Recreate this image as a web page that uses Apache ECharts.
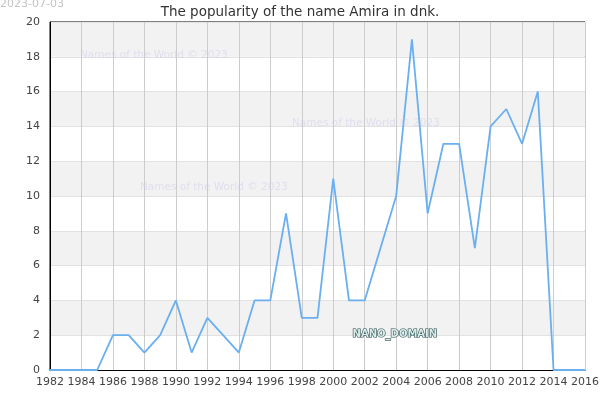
<!DOCTYPE html>
<html>
<head>
<meta charset="utf-8">
<script src="https://cdn.jsdelivr.net/npm/echarts@6/dist/echarts.min.js"></script>
<style>
  html, body { margin: 0; padding: 0; background: #fff; }
  #chart { width: 600px; height: 400px; }
</style>
</head>
<body>
<div id="chart"></div>
<script>
  const years = [1982, 1983, 1984, 1985, 1986, 1987, 1988, 1989, 1990, 1991, 1992, 1993,
    1994, 1995, 1996, 1997, 1998, 1999, 2000, 2001, 2002, 2003, 2004, 2005, 2006, 2007,
    2008, 2009, 2010, 2011, 2012, 2013, 2014, 2015, 2016];
  const counts = [0, 0, 0, 0, 2, 2, 1, 2, 4, 1, 3, 2,
    1, 4, 4, 9, 3, 3, 11, 4, 4, 7, 10, 19, 9, 13,
    13, 7, 14, 15, 13, 16, 0, 0, 0];
  const titleText = 'The popularity of the name Amira in dnk.';
  const dateText = '2023-07-03';
  const watermark = 'Names of the World © 2023';

  const font = 'DejaVu Sans';
  const myChart = echarts.init(document.getElementById('chart'));
  const wm = (x, y) => ({
    type: 'text', left: x, top: y, silent: true, z: 100,
    style: { text: watermark, fill: 'rgba(200,200,235,0.45)', font: '10.5px "DejaVu Sans"' }
  });
  const option = {
    animation: false,
    textStyle: { fontFamily: font },
    title: {
      text: titleText,
      left: 'center',
      top: 0,
      textStyle: { fontSize: 13.5, fontWeight: 'normal', color: '#333', fontFamily: font }
    },
    grid: {
      left: 50, right: 15, top: 22, bottom: 30,
      outerBoundsMode: 'none', containLabel: false,
      show: true, borderColor: '#000', borderWidth: 1
    },
    xAxis: {
      type: 'value',
      min: 1982,
      max: 2016,
      interval: 2,
      axisLine: { show: true, lineStyle: { color: '#000' } },
      axisTick: { show: false },
      axisLabel: {
        color: '#444', fontSize: 11, margin: 7, fontFamily: font,
        showMinLabel: true, showMaxLabel: true, hideOverlap: false,
        formatter: v => String(v)
      },
      splitLine: { show: true, lineStyle: { color: '#ccc' } }
    },
    yAxis: {
      type: 'value',
      min: 0,
      max: 20,
      interval: 2,
      axisLine: { show: true, lineStyle: { color: '#000' } },
      axisTick: { show: false },
      axisLabel: { color: '#444', fontSize: 11, margin: 10, fontFamily: font },
      splitLine: { show: true, lineStyle: { color: '#e2e2e2' } },
      splitArea: { show: true, areaStyle: { color: ['#fff', '#f2f2f2'] } }
    },
    graphic: [
      {
        type: 'text', left: 0, top: -1, silent: true, z: 100,
        style: { text: dateText, fill: '#c4c4c4', font: '11px "DejaVu Sans"' }
      },
      wm(80, 50),
      wm(292, 118),
      wm(140, 182),
      {
        type: 'text', left: 352, top: 329, silent: true, z: 100,
        style: {
          text: 'NANO_DOMAIN', fill: '#d8ecec', stroke: '#2a4a4a', lineWidth: 1.2,
          font: 'bold 10px "DejaVu Sans"'
        }
      }
    ],
    series: [{
      type: 'line',
      data: years.map((y, i) => [y, counts[i]]),
      showSymbol: false,
      lineStyle: { color: '#6aaff0', width: 1.8 },
      z: 3
    }]
  };
  myChart.setOption(option);
</script>
</body>
</html>
